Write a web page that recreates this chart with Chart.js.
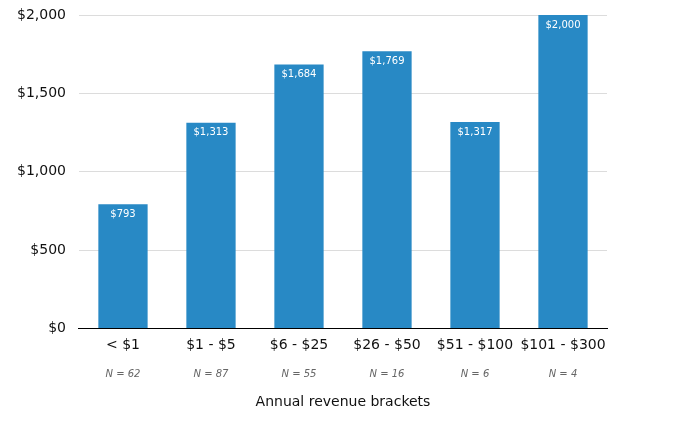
<!DOCTYPE html>
<html>
<head>
<meta charset="utf-8">
<script src="https://cdn.jsdelivr.net/npm/chart.js@4.4.1/dist/chart.umd.min.js"></script>
<style>
  html, body { margin: 0; padding: 0; background: #fff; }
</style>
</head>
<body>
<canvas id="myChart" width="675" height="429"></canvas>
<script>
var brackets = ['< $1', '$1 - $5', '$6 - $25', '$26 - $50', '$51 - $100', '$101 - $300'];
var revenue = [793, 1313, 1684, 1769, 1317, 2000];
var sampleSizes = [62, 87, 55, 16, 6, 4];
var yTicks = [0, 500, 1000, 1500, 2000];

var nLabels = sampleSizes.map(function(n){ return 'N = ' + n; });

function dollars(v){
  return '$' + Number(v).toLocaleString('en-US');
}

// white value labels inside the top of each bar
var barLabels = {
  id: 'barLabels',
  afterDatasetsDraw: function(chart){
    var ctx = chart.ctx;
    var meta = chart.getDatasetMeta(0);
    ctx.save();
    ctx.fillStyle = '#ffffff';
    ctx.font = '10px "DejaVu Sans", Verdana, sans-serif';
    ctx.textAlign = 'center';
    ctx.textBaseline = 'middle';
    meta.data.forEach(function(bar, i){
      ctx.fillText(dollars(revenue[i]), bar.x, bar.y + 10);
    });
    ctx.restore();
  }
};

var data1 = {
  labels: brackets,
  datasets: [
    {
      label: 'Revenue',
      data: revenue,
      backgroundColor: '#2889c5',
      borderWidth: 0,
      categoryPercentage: 1,
      barPercentage: 0.56
    }
  ]
};

var config1 = {
  type: 'bar',
  data: data1,
  plugins: [barLabels],
  options: {
    responsive: false,
    animation: false,
    layout: {
      padding: { left: 17, right: 68, top: 15, bottom: 16 }
    },
    plugins: {
      legend: { display: false },
      tooltip: { enabled: false }
    },
    scales: {
      y: {
        min: 0,
        max: 2000,
        afterBuildTicks: function(scale){
          scale.ticks = yTicks.map(function(v){ return { value: v }; });
        },
        grid: { color: '#dcdcdc', drawTicks: true, tickLength: 13, tickColor: 'rgba(0,0,0,0)' },
        border: { display: false },
        ticks: {
          padding: 0,
          color: '#111',
          font: { family: '"DejaVu Sans", Verdana, sans-serif', size: 14 },
          callback: function(v){ return dollars(v); }
        }
      },
      x: {
        weight: 1,
        grid: { display: false, drawTicks: false },
        border: { display: true, color: '#000', width: 1 },
        ticks: {
          padding: 9,
          color: '#111',
          maxRotation: 0,
          autoSkip: false,
          font: { family: '"DejaVu Sans", Verdana, sans-serif', size: 14 }
        }
      },
      x2: {
        type: 'category',
        position: 'bottom',
        weight: 2,
        labels: nLabels,
        offset: true,
        grid: { display: false, drawTicks: false },
        border: { display: false },
        ticks: {
          padding: 5,
          color: '#666',
          maxRotation: 0,
          autoSkip: false,
          font: { family: '"DejaVu Sans", Verdana, sans-serif', size: 10, style: 'italic' }
        },
        title: {
          display: true,
          text: 'Annual revenue brackets',
          color: '#111',
          padding: { top: 9, bottom: 2 },
          font: { family: '"DejaVu Sans", Verdana, sans-serif', size: 14 }
        }
      }
    }
  }
};

var g_principal = document.getElementById('myChart');
var myChart = new Chart(g_principal, config1);
</script>
</body>
</html>
